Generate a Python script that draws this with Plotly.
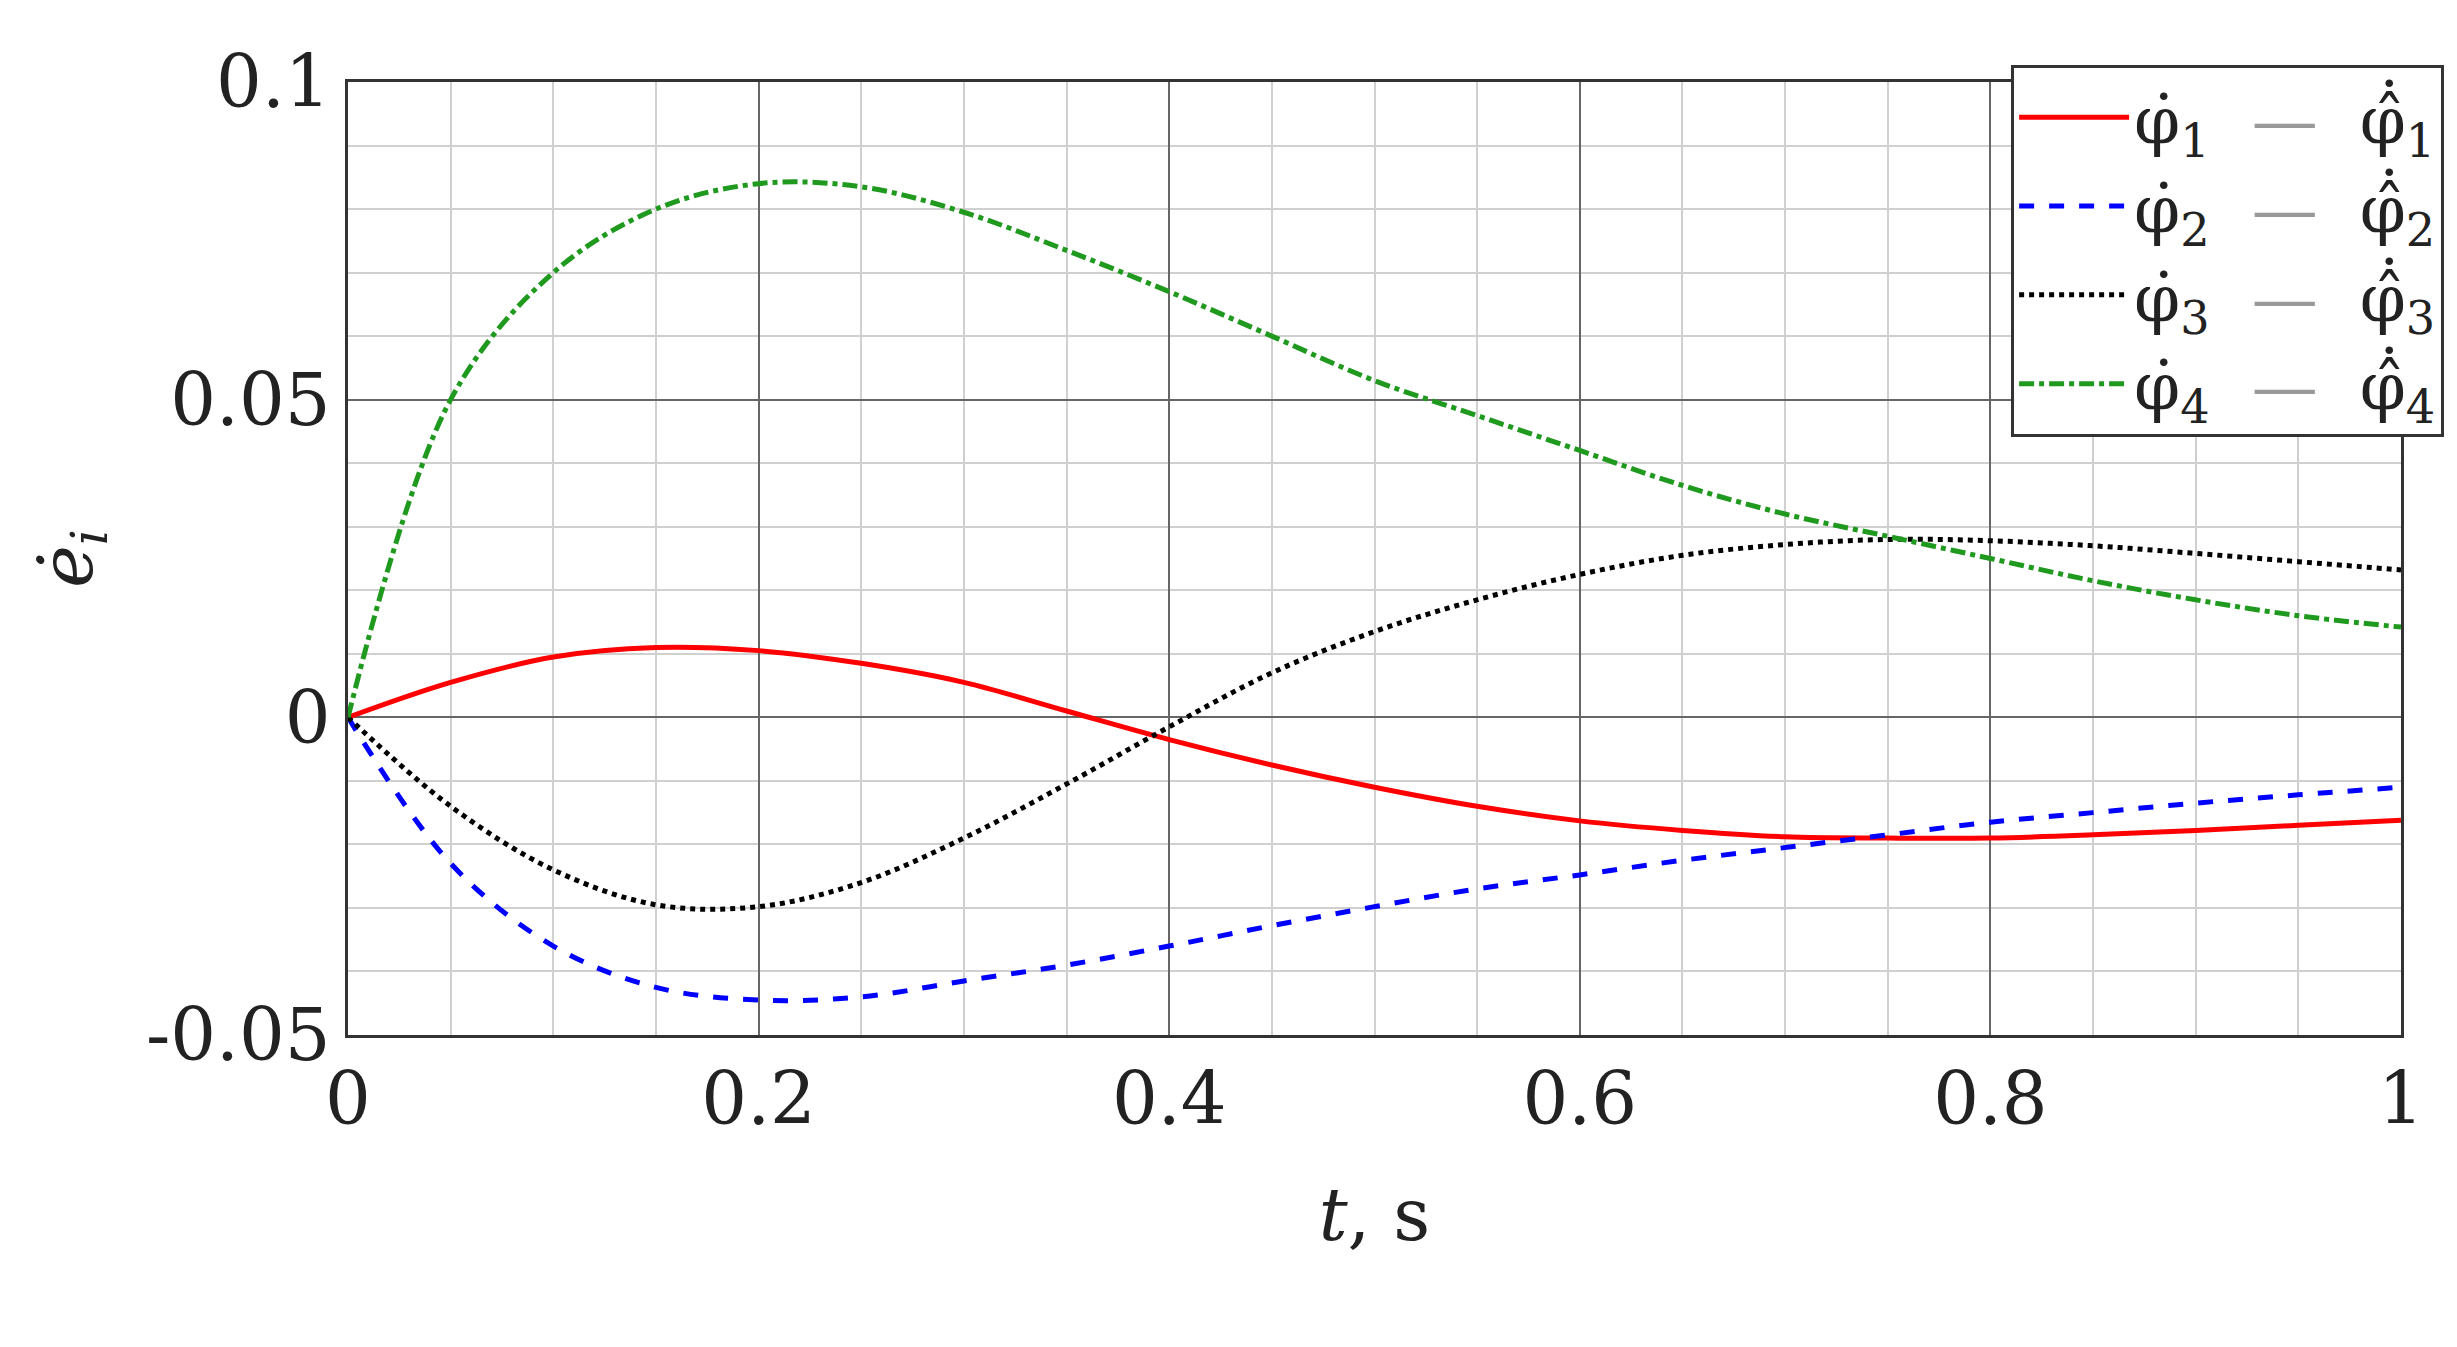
import plotly.graph_objects as go

t = [0, 0.05, 0.1, 0.15, 0.2, 0.25, 0.3, 0.35, 0.4, 0.45, 0.5, 0.55, 0.6, 0.65, 0.7, 0.75, 0.8, 0.85, 0.9, 0.95, 1.0]
e1 = [0, 0.0055, 0.0095, 0.011, 0.0105, 0.0085, 0.0055, 0.001, -0.0035, -0.0075, -0.011, -0.014, -0.0163, -0.0178, -0.0188, -0.019, -0.019, -0.0185, -0.0178, -0.017, -0.0162]
e2 = [0, -0.023, -0.036, -0.0425, -0.0445, -0.044, -0.0415, -0.039, -0.036, -0.0328, -0.0298, -0.027, -0.0248, -0.0225, -0.0205, -0.0185, -0.0165, -0.015, -0.0135, -0.0122, -0.011]
e3 = [0, -0.014, -0.024, -0.0295, -0.0298, -0.026, -0.019, -0.0105, -0.0015, 0.007, 0.0135, 0.0185, 0.0225, 0.0255, 0.0272, 0.028, 0.0278, 0.027, 0.0258, 0.0245, 0.0232]
e4 = [0, 0.05, 0.07, 0.08, 0.084, 0.0835, 0.0795, 0.0735, 0.067, 0.06, 0.053, 0.0475, 0.042, 0.0365, 0.032, 0.0285, 0.025, 0.0215, 0.0185, 0.016, 0.0142]

names = []
for i in range(1, 5):
    names.append(f"φ̇<sub>{i}</sub>  <span style='color:#999999'>—</span>  φ̂̇<sub>{i}</sub>")

styles = [("#ff0000", "solid", e1), ("#0000ff", "dash", e2), ("#000000", "dot", e3), ("#1f9a1f", "dashdot", e4)]

fig = go.Figure()
for (c, d, y), n in zip(styles, names):
    fig.add_trace(go.Scatter(x=t, y=y, mode="lines", name=n, line=dict(color=c, dash=d, width=5, shape="spline", smoothing=1.0)))

font = dict(family="DejaVu Serif, Liberation Serif, serif", size=72, color="#222222")
ax = dict(showline=True, linecolor="#333333", linewidth=3, mirror=True, ticks="", gridcolor="#666666", gridwidth=1.5,
          zeroline=False, tickfont=font)
fig.update_layout(
    width=2457, height=1347, paper_bgcolor="white", plot_bgcolor="white",
    margin=dict(l=340, r=64, t=74, b=320), font=font,
    xaxis=dict(range=[0, 1], tickvals=[0, 0.2, 0.4, 0.6, 0.8, 1], ticktext=["0", "0.2", "0.4", "0.6", "0.8", "1"],
               title=dict(text="<i>t</i>, s", font=font, standoff=50), **ax),
    yaxis=dict(range=[-0.05, 0.1], tickvals=[-0.05, 0, 0.05, 0.1], ticktext=["-0.05", "0", "0.05", "0.1"],
               title=dict(text="<i>ė</i><sub><i>i</i></sub>", font=font, standoff=30), **ax),
    legend=dict(x=1.021, y=1.018, xanchor="right", yanchor="top", bgcolor="white", bordercolor="#333333", borderwidth=3,
                font=dict(family="DejaVu Serif, Liberation Serif, serif", size=66, color="#222222"), tracegroupgap=0, itemwidth=110),
)
fig.update_xaxes(minor=dict(dtick=0.05, showgrid=True, gridcolor="#d0d0d0", gridwidth=1.5))
fig.update_yaxes(minor=dict(dtick=0.01, showgrid=True, gridcolor="#d0d0d0", gridwidth=1.5))
fig.write_html("out.html")
